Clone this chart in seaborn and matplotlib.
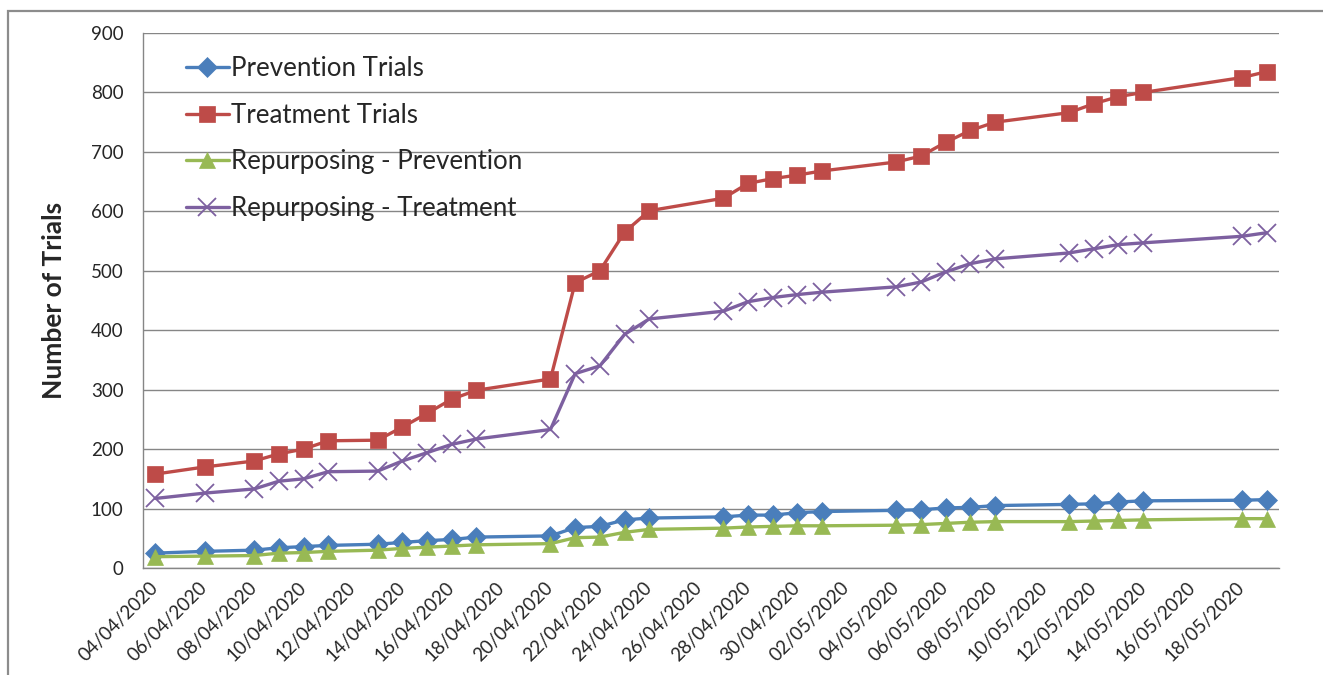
import pandas as pd
import matplotlib
matplotlib.use('Agg')
import matplotlib.pyplot as plt
import matplotlib.dates as mdates
from matplotlib.patches import Rectangle
import seaborn as sns

# data
dates = ['2020-04-04', '2020-04-06', '2020-04-08', '2020-04-09', '2020-04-10', '2020-04-11',
         '2020-04-13', '2020-04-14', '2020-04-15', '2020-04-16', '2020-04-17', '2020-04-20',
         '2020-04-21', '2020-04-22', '2020-04-23', '2020-04-24', '2020-04-27', '2020-04-28',
         '2020-04-29', '2020-04-30', '2020-05-01', '2020-05-04', '2020-05-05', '2020-05-06',
         '2020-05-07', '2020-05-08', '2020-05-11', '2020-05-12', '2020-05-13', '2020-05-14',
         '2020-05-18', '2020-05-19']
prevention = [25, 28, 30, 34, 36, 38, 40, 43, 46, 48, 52, 54, 68, 70, 81, 84,
              86, 89, 89, 93, 95, 97, 98, 101, 102, 105, 107, 108, 111, 113, 114, 115]
treatment = [158, 170, 180, 192, 200, 214, 215, 237, 260, 284, 299, 318, 480, 500, 565, 601,
             622, 647, 655, 661, 668, 683, 693, 716, 736, 750, 766, 781, 793, 800, 825, 835]
rep_prevention = [19, 20, 21, 25, 26, 28, 30, 33, 35, 37, 39, 41, 51, 52, 60, 65,
                  67, 69, 70, 71, 71, 72, 73, 75, 77, 78, 78, 79, 80, 81, 83, 83]
rep_treatment = [117, 126, 133, 146, 150, 162, 163, 180, 194, 208, 217, 233, 327, 340, 393, 419,
                 432, 448, 455, 460, 464, 473, 481, 498, 512, 520, 530, 537, 544, 547, 558, 564]

series_names = ['Prevention Trials', 'Treatment Trials',
                'Repurposing - Prevention', 'Repurposing - Treatment']
colors = ['#4A7EBB', '#BE4B48', '#98B954', '#7D60A0']
markers = ['D', 's', '^', 'x']
msizes = [10.5, 11, 12, 12.5]

df = pd.DataFrame({'date': pd.to_datetime(dates),
                   series_names[0]: prevention,
                   series_names[1]: treatment,
                   series_names[2]: rep_prevention,
                   series_names[3]: rep_treatment})
long_df = df.melt(id_vars='date', var_name='series', value_name='trials')

sns.set_theme(style='white')
plt.rcParams['font.family'] = ['Lato', 'DejaVu Sans']

fig = plt.figure(figsize=(13.23, 6.75), dpi=100)
ax = fig.add_axes([143 / 1323, 1 - 568 / 675, 1136 / 1323, 535 / 675])

for name, c, m, ms in zip(series_names, colors, markers, msizes):
    sub = long_df[long_df['series'] == name]
    sns.lineplot(data=sub, x='date', y='trials', color=c, marker=m, markersize=ms,
                 markeredgecolor=c, markeredgewidth=1.3 if m == 'x' else 0.5,
                 linewidth=2.4, label=name, ax=ax)

grey = '#868686'
ax.set_ylim(0, 900)
ax.set_yticks(range(0, 901, 100))
ax.yaxis.grid(True, color=grey, linewidth=1)
ax.xaxis.grid(False)

x0 = pd.Timestamp('2020-04-03 12:00')
x1 = pd.Timestamp('2020-05-19 12:00')
ax.set_xlim(x0, x1)
ax.set_xticks(pd.date_range('2020-04-04', '2020-05-18', freq='2D'))
ax.set_xticks(pd.date_range(x0, x1, freq='2D'), minor=True)
ax.xaxis.set_major_formatter(mdates.DateFormatter('%d/%m/%Y'))
ax.tick_params(axis='x', which='major', length=0, pad=12, labelsize=13.5)
ax.tick_params(axis='x', which='minor', length=6, width=1, color=grey, direction='out')
ax.tick_params(axis='y', length=6, width=1, color=grey, direction='out', pad=8, labelsize=13.5)
for lab in ax.get_xticklabels():
    lab.set_rotation(45)
    lab.set_ha('right')
    lab.set_va('center')
    lab.set_rotation_mode('anchor')

for s in ['top', 'right']:
    ax.spines[s].set_visible(False)
for s in ['left', 'bottom']:
    ax.spines[s].set_color(grey)
    ax.spines[s].set_linewidth(1)

ax.set_xlabel('')
ax.set_ylabel('Number of Trials', fontsize=19, fontweight='bold')
ax.yaxis.set_label_coords(-0.068, 0.5)

ax.legend(loc='upper left', bbox_to_anchor=(186 / 1323, 1 - 56 / 675),
          bbox_transform=fig.transFigure, frameon=False, fontsize=18.6,
          handlelength=1.65, handletextpad=0.1, labelspacing=0.84, borderpad=0,
          borderaxespad=0)

# outer chart border (cropped at right and bottom)
fig.add_artist(Rectangle((8 / 1323, -0.1), 1.2, 1.1 - 11 / 675, transform=fig.transFigure,
                         fill=False, edgecolor='#8c8c8c', linewidth=1.6))

fig.savefig('out.png', dpi=100)
